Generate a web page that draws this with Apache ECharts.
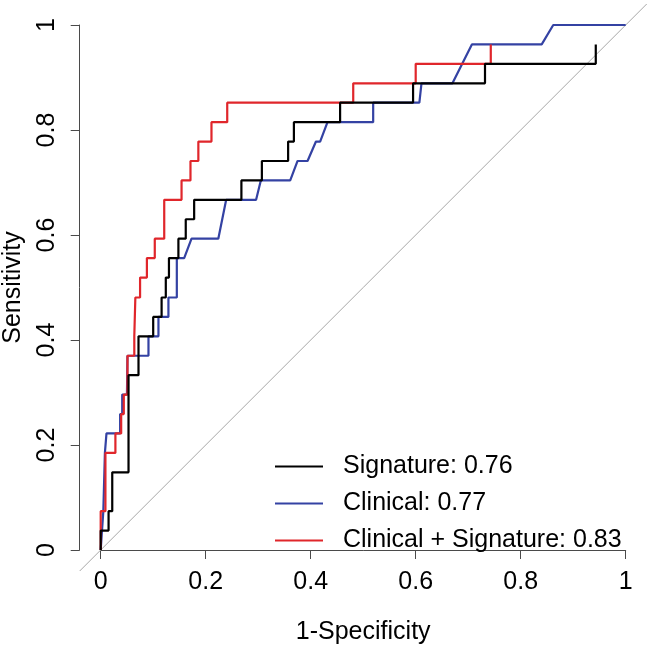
<!DOCTYPE html>
<html><head><meta charset="utf-8">
<script src="https://cdn.jsdelivr.net/npm/echarts@6/dist/echarts.min.js"></script>
<style>html,body{margin:0;padding:0;background:#fff}#c{width:650px;height:649px}</style>
</head><body><div id="c"></div>
<script>
const seriesNames = ['Signature: 0.76', 'Clinical: 0.77', 'Clinical + Signature: 0.83'];
const xTicks = [0, 0.2, 0.4, 0.6, 0.8, 1];
const xTitle = '1-Specificity';
const yTitle = 'Sensitivity';

const signatureFpr = [0, 0, 0.015, 0.015, 0.022, 0.022, 0.053, 0.053, 0.072, 0.072, 0.100, 0.100, 0.116, 0.116, 0.124, 0.124, 0.130, 0.130, 0.148, 0.148, 0.162, 0.162, 0.178, 0.178, 0.268, 0.268, 0.307, 0.307, 0.357, 0.357, 0.368, 0.368, 0.456, 0.456, 0.595, 0.595, 0.732, 0.732, 0.943, 0.943];
const signatureTpr = [0, 0.037, 0.037, 0.074, 0.074, 0.148, 0.148, 0.333, 0.333, 0.407, 0.407, 0.444, 0.444, 0.481, 0.481, 0.519, 0.519, 0.556, 0.556, 0.593, 0.593, 0.630, 0.630, 0.667, 0.667, 0.704, 0.704, 0.741, 0.741, 0.778, 0.778, 0.815, 0.815, 0.852, 0.852, 0.889, 0.889, 0.926, 0.926, 0.963];

const clinicalFpr = [0, 0.005, 0.008, 0.011, 0.037, 0.037, 0.041, 0.041, 0.050, 0.051, 0.091, 0.091, 0.110, 0.110, 0.129, 0.129, 0.145, 0.145, 0.159, 0.173, 0.224, 0.239, 0.296, 0.305, 0.361, 0.375, 0.394, 0.410, 0.418, 0.432, 0.519, 0.519, 0.607, 0.611, 0.670, 0.707, 0.840, 0.862, 1];
const clinicalTpr = [0, 0.074, 0.185, 0.222, 0.222, 0.259, 0.259, 0.296, 0.296, 0.370, 0.370, 0.407, 0.407, 0.444, 0.444, 0.481, 0.481, 0.556, 0.556, 0.593, 0.593, 0.667, 0.667, 0.704, 0.704, 0.741, 0.741, 0.778, 0.778, 0.815, 0.815, 0.852, 0.852, 0.889, 0.889, 0.963, 0.963, 1, 1];

const combinedFpr = [0, 0, 0.009, 0.009, 0.028, 0.028, 0.039, 0.039, 0.044, 0.044, 0.051, 0.051, 0.064, 0.064, 0.066, 0.066, 0.075, 0.075, 0.088, 0.088, 0.103, 0.103, 0.121, 0.121, 0.154, 0.154, 0.171, 0.171, 0.186, 0.186, 0.211, 0.211, 0.241, 0.241, 0.481, 0.481, 0.600, 0.600, 0.743, 0.743];
const combinedTpr = [0, 0.074, 0.074, 0.185, 0.185, 0.222, 0.222, 0.259, 0.259, 0.296, 0.296, 0.370, 0.370, 0.407, 0.407, 0.481, 0.481, 0.519, 0.519, 0.556, 0.556, 0.593, 0.593, 0.667, 0.667, 0.704, 0.704, 0.741, 0.741, 0.778, 0.778, 0.815, 0.815, 0.852, 0.852, 0.889, 0.889, 0.926, 0.926, 0.963];

const diagonalX = [-0.04, 1.04];
const diagonalY = [-0.04, 1.04];

const colors = ['#000000', '#3442a3', '#e0262b'];
const FONT = '"Liberation Sans", Arial, Helvetica, sans-serif';

function pairs(xs, ys) { return xs.map((x, i) => [x, ys[i]]); }
function fmt(v) { return xTicks.indexOf(v) >= 0 ? String(v) : ''; }

const chart = echarts.init(document.getElementById('c'), null, {renderer: 'canvas'});
const axisColor = '#4a4a4a';
chart.setOption({
  animation: false,
  backgroundColor: '#ffffff',
  grid: {left: 100.7, top: 25, width: 525, height: 525, containLabel: false, outerBoundsMode: 'none'},
  xAxis: {
    type: 'value', min: 0, max: 1, interval: 0.2,
    name: xTitle, nameLocation: 'middle', nameGap: 70,
    nameTextStyle: {fontFamily: FONT, fontSize: 25, color: '#000'},
    axisLine: {show: true, onZero: false, lineStyle: {color: axisColor, width: 1}},
    axisTick: {show: true, length: 9, lineStyle: {color: axisColor}},
    axisLabel: {fontFamily: FONT, fontSize: 25, color: '#000', margin: 20, formatter: fmt},
    splitLine: {show: false}
  },
  yAxis: {
    type: 'value', min: 0, max: 1, interval: 0.2, offset: 21,
    name: yTitle, nameLocation: 'middle', nameGap: 54,
    nameTextStyle: {fontFamily: FONT, fontSize: 25, color: '#000'},
    axisLine: {show: true, onZero: false, lineStyle: {color: axisColor, width: 1}},
    axisTick: {show: true, length: 9, lineStyle: {color: axisColor}},
    axisLabel: {fontFamily: FONT, fontSize: 25, color: '#000', margin: 20, rotate: 90, formatter: fmt},
    splitLine: {show: false}
  },
  legend: {
    orient: 'vertical', left: 270, top: 449,
    itemWidth: 48, itemHeight: 2, itemGap: 12,
    icon: 'rect',
    data: seriesNames,
    textStyle: {fontFamily: FONT, fontSize: 25, color: '#000', padding: [0, 0, 0, 15]},
    selectedMode: false
  },
  series: [
    {type: 'custom', name: 'diag', silent: true, clip: false, z: 1,
     data: [[diagonalX[0], diagonalY[0], diagonalX[1], diagonalY[1]]],
     renderItem: function (params, api) {
       const p1 = api.coord([api.value(0), api.value(1)]);
       const p2 = api.coord([api.value(2), api.value(3)]);
       return {type: 'line', shape: {x1: p1[0], y1: p1[1], x2: p2[0], y2: p2[1]},
               style: {stroke: '#a8a8a8', lineWidth: 1}};
     },
     encode: {x: [0, 2], y: [1, 3]}},
    {type: 'line', name: seriesNames[1], data: pairs(clinicalFpr, clinicalTpr), showSymbol: false, clip: false,
     color: colors[1], lineStyle: {color: colors[1], width: 2.2}, z: 2},
    {type: 'line', name: seriesNames[2], data: pairs(combinedFpr, combinedTpr), showSymbol: false, clip: false,
     color: colors[2], lineStyle: {color: colors[2], width: 2.2}, z: 3},
    {type: 'line', name: seriesNames[0], data: pairs(signatureFpr, signatureTpr), showSymbol: false, clip: false,
     color: colors[0], lineStyle: {color: colors[0], width: 2.2}, z: 4}
  ]
});
</script></body></html>
